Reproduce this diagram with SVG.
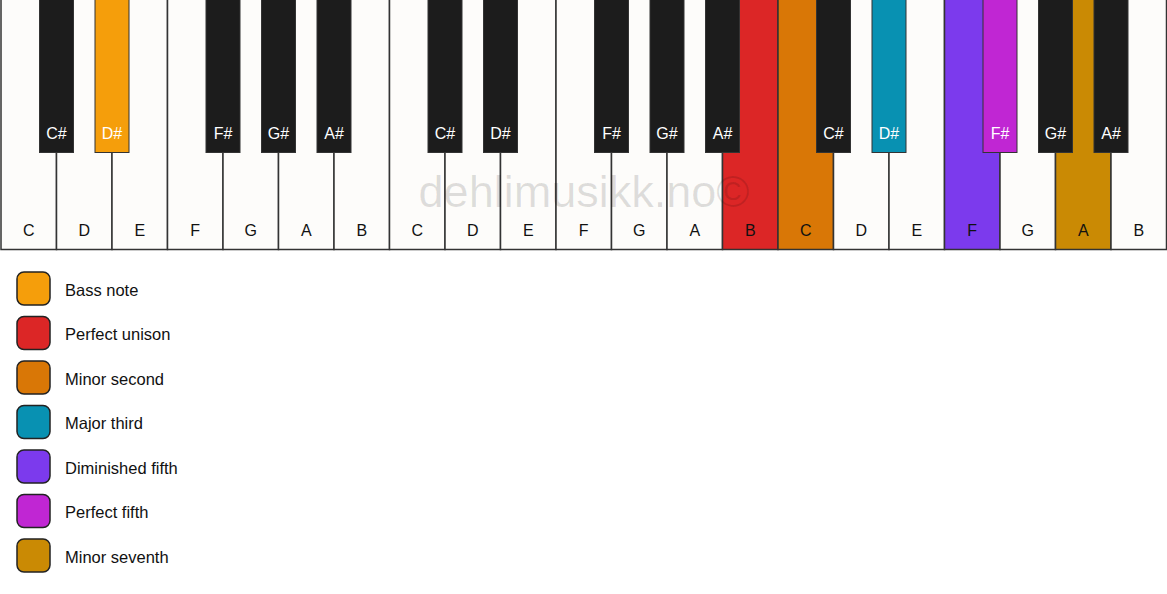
<svg xmlns="http://www.w3.org/2000/svg" width="1167" height="594" viewBox="0 0 1167 594">
<style>
.w{fill:#fdfcfa;stroke:#333;stroke-width:1.5}
.b{fill:#1c1c1c;stroke:#333;stroke-width:1}
.wl{font-family:"Liberation Sans",Arial,sans-serif;font-size:16px;fill:#111;text-anchor:middle}
.bl{font-family:"Liberation Sans",Arial,sans-serif;font-size:16px;fill:#fff;text-anchor:middle}
.lg{stroke:#222;stroke-width:1.5}
.lt{font-family:"Liberation Sans",Arial,sans-serif;font-size:16.5px;fill:#111}
</style>
<rect width="1167" height="594" fill="#ffffff"/>
<g id="white-keys">
<g id="w0"><rect class="w" x="1" y="-2" width="55.5" height="251.5"/><text class="wl" x="28.75" y="236">C</text></g>
<g id="w1"><rect class="w" x="56.5" y="-2" width="55.5" height="251.5"/><text class="wl" x="84.25" y="236">D</text></g>
<g id="w2"><rect class="w" x="112" y="-2" width="55.5" height="251.5"/><text class="wl" x="139.75" y="236">E</text></g>
<g id="w3"><rect class="w" x="167.5" y="-2" width="55.5" height="251.5"/><text class="wl" x="195.25" y="236">F</text></g>
<g id="w4"><rect class="w" x="223" y="-2" width="55.5" height="251.5"/><text class="wl" x="250.75" y="236">G</text></g>
<g id="w5"><rect class="w" x="278.5" y="-2" width="55.5" height="251.5"/><text class="wl" x="306.25" y="236">A</text></g>
<g id="w6"><rect class="w" x="334" y="-2" width="55.5" height="251.5"/><text class="wl" x="361.75" y="236">B</text></g>
<g id="w7"><rect class="w" x="389.5" y="-2" width="55.5" height="251.5"/><text class="wl" x="417.25" y="236">C</text></g>
<g id="w8"><rect class="w" x="445" y="-2" width="55.5" height="251.5"/><text class="wl" x="472.75" y="236">D</text></g>
<g id="w9"><rect class="w" x="500.5" y="-2" width="55.5" height="251.5"/><text class="wl" x="528.25" y="236">E</text></g>
<g id="w10"><rect class="w" x="556" y="-2" width="55.5" height="251.5"/><text class="wl" x="583.75" y="236">F</text></g>
<g id="w11"><rect class="w" x="611.5" y="-2" width="55.5" height="251.5"/><text class="wl" x="639.25" y="236">G</text></g>
<g id="w12"><rect class="w" x="667" y="-2" width="55.5" height="251.5"/><text class="wl" x="694.75" y="236">A</text></g>
<g id="w13"><rect class="w" x="722.5" y="-2" width="55.5" height="251.5" style="fill:#dc2626"/><text class="wl" x="750.25" y="236">B</text></g>
<g id="w14"><rect class="w" x="778" y="-2" width="55.5" height="251.5" style="fill:#d97706"/><text class="wl" x="805.75" y="236">C</text></g>
<g id="w15"><rect class="w" x="833.5" y="-2" width="55.5" height="251.5"/><text class="wl" x="861.25" y="236">D</text></g>
<g id="w16"><rect class="w" x="889" y="-2" width="55.5" height="251.5"/><text class="wl" x="916.75" y="236">E</text></g>
<g id="w17"><rect class="w" x="944.5" y="-2" width="55.5" height="251.5" style="fill:#7c3aed"/><text class="wl" x="972.25" y="236">F</text></g>
<g id="w18"><rect class="w" x="1000" y="-2" width="55.5" height="251.5"/><text class="wl" x="1027.75" y="236">G</text></g>
<g id="w19"><rect class="w" x="1055.5" y="-2" width="55.5" height="251.5" style="fill:#ca8a04"/><text class="wl" x="1083.25" y="236">A</text></g>
<g id="w20"><rect class="w" x="1111" y="-2" width="55.5" height="251.5"/><text class="wl" x="1138.75" y="236">B</text></g>
</g>
<text x="584" y="207" font-family="Liberation Sans,Arial,sans-serif" font-size="45" fill="#000" fill-opacity="0.12" text-anchor="middle">dehlimusikk.no©</text>
<g id="black-keys">
<g id="b0"><rect class="b" x="39.5" y="-2" width="34" height="154.5"/><text class="bl" x="56.5" y="139">C#</text></g>
<g id="b1"><rect class="b" x="95" y="-2" width="34" height="154.5" style="fill:#f59e0b"/><text class="bl" x="112" y="139">D#</text></g>
<g id="b2"><rect class="b" x="206" y="-2" width="34" height="154.5"/><text class="bl" x="223" y="139">F#</text></g>
<g id="b3"><rect class="b" x="261.5" y="-2" width="34" height="154.5"/><text class="bl" x="278.5" y="139">G#</text></g>
<g id="b4"><rect class="b" x="317" y="-2" width="34" height="154.5"/><text class="bl" x="334" y="139">A#</text></g>
<g id="b5"><rect class="b" x="428" y="-2" width="34" height="154.5"/><text class="bl" x="445" y="139">C#</text></g>
<g id="b6"><rect class="b" x="483.5" y="-2" width="34" height="154.5"/><text class="bl" x="500.5" y="139">D#</text></g>
<g id="b7"><rect class="b" x="594.5" y="-2" width="34" height="154.5"/><text class="bl" x="611.5" y="139">F#</text></g>
<g id="b8"><rect class="b" x="650" y="-2" width="34" height="154.5"/><text class="bl" x="667" y="139">G#</text></g>
<g id="b9"><rect class="b" x="705.5" y="-2" width="34" height="154.5"/><text class="bl" x="722.5" y="139">A#</text></g>
<g id="b10"><rect class="b" x="816.5" y="-2" width="34" height="154.5"/><text class="bl" x="833.5" y="139">C#</text></g>
<g id="b11"><rect class="b" x="872" y="-2" width="34" height="154.5" style="fill:#0891b2"/><text class="bl" x="889" y="139">D#</text></g>
<g id="b12"><rect class="b" x="983" y="-2" width="34" height="154.5" style="fill:#c026d3"/><text class="bl" x="1000" y="139">F#</text></g>
<g id="b13"><rect class="b" x="1038.5" y="-2" width="34" height="154.5"/><text class="bl" x="1055.5" y="139">G#</text></g>
<g id="b14"><rect class="b" x="1094" y="-2" width="34" height="154.5"/><text class="bl" x="1111" y="139">A#</text></g>
</g>
<g id="legend">
<g id="lg0"><rect class="lg" x="17" y="272" width="33" height="33" rx="7" fill="#f59e0b"/><text class="lt" x="65" y="295.5">Bass note</text></g>
<g id="lg1"><rect class="lg" x="17" y="316.5" width="33" height="33" rx="7" fill="#dc2626"/><text class="lt" x="65" y="340">Perfect unison</text></g>
<g id="lg2"><rect class="lg" x="17" y="361" width="33" height="33" rx="7" fill="#d97706"/><text class="lt" x="65" y="384.5">Minor second</text></g>
<g id="lg3"><rect class="lg" x="17" y="405.5" width="33" height="33" rx="7" fill="#0891b2"/><text class="lt" x="65" y="429">Major third</text></g>
<g id="lg4"><rect class="lg" x="17" y="450" width="33" height="33" rx="7" fill="#7c3aed"/><text class="lt" x="65" y="473.5">Diminished fifth</text></g>
<g id="lg5"><rect class="lg" x="17" y="494.5" width="33" height="33" rx="7" fill="#c026d3"/><text class="lt" x="65" y="518">Perfect fifth</text></g>
<g id="lg6"><rect class="lg" x="17" y="539" width="33" height="33" rx="7" fill="#ca8a04"/><text class="lt" x="65" y="562.5">Minor seventh</text></g>
</g>
<g id="connectors"/>
</svg>
